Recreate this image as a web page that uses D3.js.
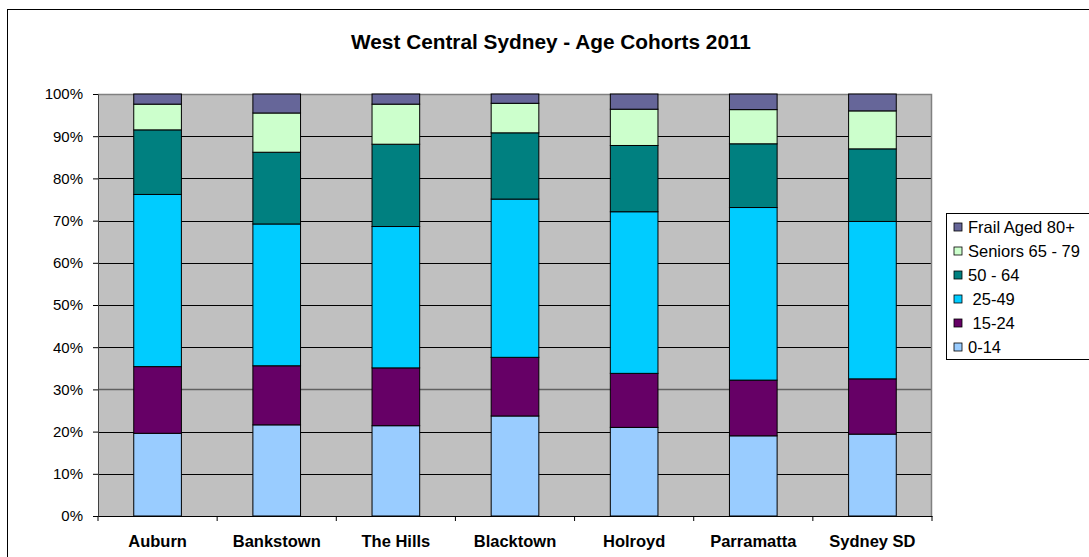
<!DOCTYPE html>
<html>
<head>
<meta charset="utf-8">
<script src="https://cdn.jsdelivr.net/npm/d3@7"></script>
<style>
    body { margin: 0; background: #fff; }
    #plot-canvas { width: 1089px; height: 557px; }
    text { font-family: Arial, "Liberation Sans", sans-serif; }
</style>
</head>
<body>
<div id="plot-canvas"></div>
<script>
const categories = ["Auburn", "Bankstown", "The Hills", "Blacktown", "Holroyd", "Parramatta", "Sydney SD"];

// share of population in each cohort (%), bottom to top
const age0to14 = [19.6, 21.6, 21.4, 23.7, 21.0, 19.0, 19.4];
const age15to24 = [15.8, 14.0, 13.7, 13.9, 12.8, 13.2, 13.1];
const age25to49 = [40.8, 33.6, 33.5, 37.5, 38.3, 40.9, 37.3];
const age50to64 = [15.3, 17.0, 19.5, 15.7, 15.7, 15.1, 17.2];
const age65to79 = [6.1, 9.3, 9.5, 7.0, 8.6, 8.1, 9.0];
const age80plus = [2.4, 4.5, 2.4, 2.2, 3.6, 3.7, 4.0];

const seriesNames = ["0-14", " 15-24", " 25-49", "50 - 64", "Seniors 65 - 79", "Frail Aged 80+"];
const seriesValues = [age0to14, age15to24, age25to49, age50to64, age65to79, age80plus];
const yTicks = [0, 10, 20, 30, 40, 50, 60, 70, 80, 90, 100];

const title = "West Central Sydney - Age Cohorts 2011";

const colors = ["#99ccff", "#660066", "#00ccff", "#008080", "#ccffcc", "#666699"];
const margin = {top: 94, right: 157, bottom: 41, left: 98};

var width = 1089 - margin.left - margin.right,
    height = 557 - margin.top - margin.bottom;

// one row per suburb for d3.stack
const rows = categories.map(function (c, i) {
    let row = {category: c};
    seriesNames.forEach(function (s, j) { row[s] = seriesValues[j][i]; });
    return row;
});
const stacked = d3.stack().keys(seriesNames)(rows);

var root = d3.select("#plot-canvas").append("svg")
    .attr("width", 1089)
    .attr("height", 557);

// outer chart frame
root.append("rect")
    .attr("x", 7.5).attr("y", 9.5)
    .attr("width", 1100).attr("height", 600)
    .attr("fill", "#fff").attr("stroke", "#000").attr("stroke-width", 1);

root.append("text")
    .attr("x", 551).attr("y", 49)
    .attr("text-anchor", "middle")
    .style("font-size", "20.8px").style("font-weight", "bold")
    .text(title);

var svg = root.append("g").attr("transform", "translate(" + margin.left + "," + margin.top + ")");

var x = d3.scaleBand().domain(categories).range([0, width]).paddingInner(0.6).paddingOuter(0.3);
var y = d3.scaleLinear().domain([0, 100]).range([height, 0]);

// plot background
svg.append("rect")
    .attr("width", width).attr("height", height)
    .attr("fill", "#c0c0c0");

// gridlines
svg.selectAll(".grid")
    .data(yTicks.filter(function (d) { return d > 0 && d < 100; }))
    .enter().append("line")
    .attr("class", "grid")
    .attr("x1", 0).attr("x2", width)
    .attr("y1", function (d) { return Math.round(y(d)) + 0.5; })
    .attr("y2", function (d) { return Math.round(y(d)) + 0.5; })
    .attr("stroke", function (d) { return d === 30 ? "#606060" : "#000"; })
    .attr("stroke-width", function (d) { return d === 30 ? 1.5 : 1; });

// plot border top/right
svg.append("path")
    .attr("d", "M0,0.5H" + (width - 0.5) + "V" + height)
    .attr("fill", "none").attr("stroke", "#808080").attr("stroke-width", 1.5);

//Draw bars
svg.selectAll(".series")
    .data(stacked)
    .enter().append("g")
    .attr("class", "series")
    .attr("fill", function (d, i) { return colors[i]; })
    .selectAll("rect")
    .data(function (d) { return d; })
    .enter().append("rect")
    .attr("x", function (d) { return x(d.data.category); })
    .attr("y", function (d) { return y(d[1]); })
    .attr("width", x.bandwidth())
    .attr("height", function (d) { return y(d[0]) - y(d[1]); })
    .attr("stroke", "#000").attr("stroke-width", 1);

//Draw y-axis
var yAxis = d3.axisLeft(y).tickValues(yTicks)
    .tickFormat(function (d) { return d + "%"; })
    .tickSize(5).tickPadding(10);
var yg = svg.append("g").attr("class", "axis").call(yAxis);
yg.select(".domain").attr("stroke", "#404040");
yg.selectAll("text").style("font-size", "15px").attr("fill", "#000").style("font-family", "Arial, 'Liberation Sans', sans-serif");

//Draw x-axis
var xAxis = d3.axisBottom(x).tickSize(0).tickPadding(19);
var xg = svg.append("g").attr("class", "axis")
    .attr("transform", "translate(0," + height + ")")
    .call(xAxis);
xg.select(".domain").attr("stroke", "#000");
xg.selectAll("text").style("font-size", "16.5px").style("font-weight", "bold").attr("fill", "#000")
    .style("font-family", "Arial, 'Liberation Sans', sans-serif");

// category separator ticks below the axis
xg.selectAll(".sep")
    .data(d3.range(categories.length + 1))
    .enter().append("line")
    .attr("class", "sep")
    .attr("x1", function (i) { return i * width / categories.length; })
    .attr("x2", function (i) { return i * width / categories.length; })
    .attr("y1", 0).attr("y2", 5)
    .attr("stroke", "#000");

//Draw legend
var legend = root.append("g").attr("transform", "translate(946,213)");
legend.append("rect")
    .attr("x", 0.5).attr("y", 0.5)
    .attr("width", 150).attr("height", 146)
    .attr("fill", "#fff").attr("stroke", "#000");

var legendItems = legend.selectAll(".item")
    .data(seriesNames.slice().reverse())
    .enter().append("g")
    .attr("class", "item")
    .attr("transform", function (d, i) { return "translate(8," + (14 + i * 24) + ")"; });

legendItems.append("rect")
    .attr("x", 0).attr("y", -4)
    .attr("width", 8).attr("height", 8)
    .attr("fill", function (d) { return colors[seriesNames.indexOf(d)]; })
    .attr("stroke", "#000").attr("stroke-width", 0.8);

legendItems.append("text")
    .attr("x", 14).attr("y", 6)
    .style("font-size", "16.5px")
    .style("white-space", "pre")
    .text(function (d) { return d; });
</script>
</body>
</html>
